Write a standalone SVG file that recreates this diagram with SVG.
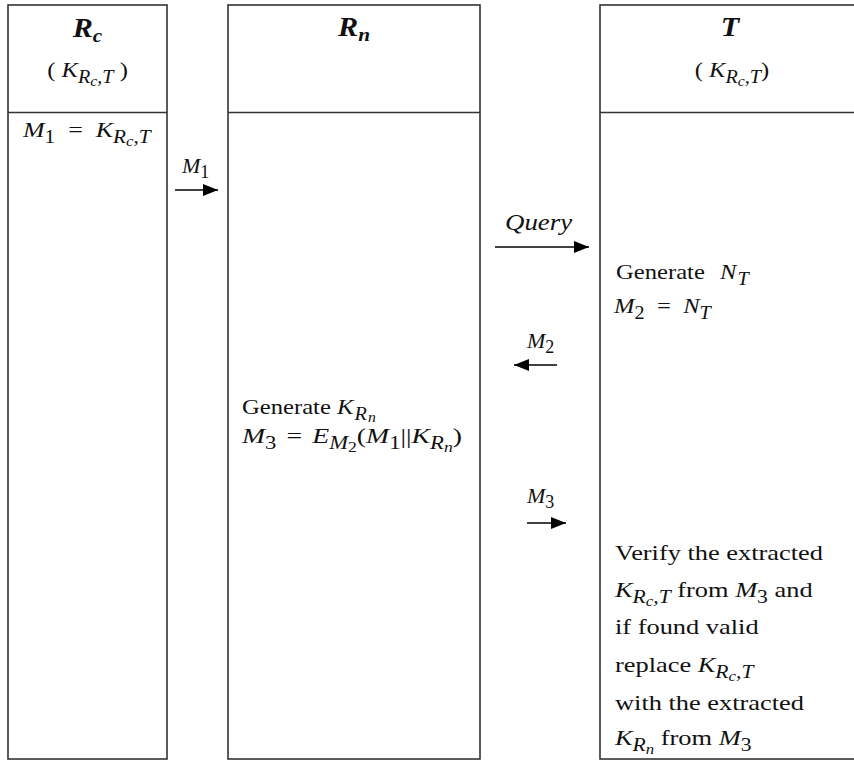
<svg xmlns="http://www.w3.org/2000/svg" width="854" height="761" viewBox="0 0 854 761">
<defs>
<style>
.box{fill:#fff;stroke:#333;stroke-width:1.6}
.t{font-family:"Liberation Serif","Times New Roman",serif;font-size:22px;fill:#111}
.i{font-style:italic}
.b{font-weight:bold;font-style:italic;font-size:27px}
.bs{font-size:19px}
.s{font-size:18px}
.ss{font-size:14px}
.q{font-size:24px}
.conn line{stroke:#000;stroke-width:1.6;marker-end:url(#ah)}
</style>
<marker id="ah" markerUnits="userSpaceOnUse" markerWidth="16" markerHeight="12" refX="15" refY="6" orient="auto">
<path d="M0,0 L15,6 L0,12 Z" fill="#000"/>
</marker>
</defs>
<rect width="854" height="761" fill="#fff"/>

<g id="node-Rc">
<rect class="box" x="8" y="5" width="159" height="754"/>
<line class="box" x1="8" y1="112.5" x2="167" y2="112.5"/>
<text class="t b" transform="translate(87.5,37) scale(1.12,1)" text-anchor="middle">R<tspan class="bs" dy="5">c</tspan></text>
<text class="t" transform="translate(87.5,77) scale(1.12,1)" text-anchor="middle">( <tspan class="i">K</tspan><tspan class="i s" dy="6">R</tspan><tspan class="i ss" dy="3">c</tspan><tspan class="i s" dy="-3">,T</tspan><tspan dy="-6"> )</tspan></text>
<text class="t" transform="translate(23,137) scale(1.18,1)"><tspan class="i">M</tspan><tspan class="s" dy="6">1</tspan><tspan dy="-6" dx="11">=</tspan><tspan class="i" dx="11">K</tspan><tspan class="i s" dy="6">R</tspan><tspan class="i ss" dy="3">c</tspan><tspan class="i s" dy="-3">,T</tspan></text>
</g>

<g id="node-Rn">
<rect class="box" x="228" y="5" width="252" height="754"/>
<line class="box" x1="228" y1="112.5" x2="480" y2="112.5"/>
<text class="t b" transform="translate(354,36) scale(1.12,1)" text-anchor="middle">R<tspan class="bs" dy="5">n</tspan></text>
<text class="t" transform="translate(242,414) scale(1.12,1)">Generate <tspan class="i">K</tspan><tspan class="i s" dy="6" dx="1">R</tspan><tspan class="i ss" dy="2" dx="1">n</tspan></text>
<text class="t" transform="translate(242,443) scale(1.26,1)"><tspan class="i">M</tspan><tspan class="s" dy="6">3</tspan><tspan dy="-6" dx="8">=</tspan><tspan class="i" dx="8">E</tspan><tspan class="i s" dy="6">M</tspan><tspan class="ss" dy="3">2</tspan><tspan dy="-9">(</tspan><tspan class="i">M</tspan><tspan class="s" dy="6">1</tspan><tspan dy="-6">||</tspan><tspan class="i">K</tspan><tspan class="i s" dy="6">R</tspan><tspan class="i ss" dy="3">n</tspan><tspan dy="-9">)</tspan></text>
</g>

<g id="node-T">
<rect class="box" x="600" y="5" width="270" height="754"/>
<line class="box" x1="600" y1="112.5" x2="854" y2="112.5"/>
<text class="t b" transform="translate(730,36) scale(1.12,1)" text-anchor="middle">T</text>
<text class="t" transform="translate(732,77) scale(1.12,1)" text-anchor="middle">( <tspan class="i">K</tspan><tspan class="i s" dy="6">R</tspan><tspan class="i ss" dy="3">c</tspan><tspan class="i s" dy="-3">,T</tspan><tspan dy="-6">)</tspan></text>
<text class="t" transform="translate(616,279) scale(1.12,1)">Generate <tspan class="i" dx="8">N</tspan><tspan class="i s" dy="6" dx="1">T</tspan></text>
<text class="t" transform="translate(614,313) scale(1.12,1)"><tspan class="i">M</tspan><tspan class="s" dy="6">2</tspan><tspan dy="-6" dx="11">=</tspan><tspan class="i" dx="11">N</tspan><tspan class="i s" dy="6">T</tspan></text>
<text class="t" transform="translate(615,560) scale(1.2,1)">Verify the extracted</text>
<text class="t" transform="translate(615,597) scale(1.2,1)"><tspan class="i">K</tspan><tspan class="i s" dy="6">R</tspan><tspan class="i ss" dy="3">c</tspan><tspan class="i s" dy="-3">,T</tspan><tspan dy="-6"> from </tspan><tspan class="i">M</tspan><tspan class="s" dy="6">3</tspan><tspan dy="-6"> and</tspan></text>
<text class="t" transform="translate(615,634) scale(1.2,1)">if found valid</text>
<text class="t" transform="translate(615,672) scale(1.2,1)">replace <tspan class="i">K</tspan><tspan class="i s" dy="6">R</tspan><tspan class="i ss" dy="3">c</tspan><tspan class="i s" dy="-3">,T</tspan></text>
<text class="t" transform="translate(615,710) scale(1.2,1)">with the extracted</text>
<text class="t" transform="translate(615,745) scale(1.2,1)"><tspan class="i">K</tspan><tspan class="i s" dy="6">R</tspan><tspan class="i ss" dy="3">n</tspan><tspan dy="-9"> from </tspan><tspan class="i">M</tspan><tspan class="s" dy="6">3</tspan></text>
</g>

<g id="connectors" class="conn">
<line x1="175" y1="190" x2="218" y2="190"/>
<text class="t" transform="translate(182,173)"><tspan class="i">M</tspan><tspan class="s" dy="5">1</tspan></text>
<line x1="495" y1="247" x2="589" y2="247"/>
<text class="t i q" transform="translate(505,230) scale(1.12,1)">Query</text>
<line x1="557" y1="365" x2="514" y2="365"/>
<text class="t" transform="translate(527,348)"><tspan class="i">M</tspan><tspan class="s" dy="5">2</tspan></text>
<line x1="527" y1="523" x2="566" y2="523"/>
<text class="t" transform="translate(527,503)"><tspan class="i">M</tspan><tspan class="s" dy="5">3</tspan></text>
</g>
</svg>
